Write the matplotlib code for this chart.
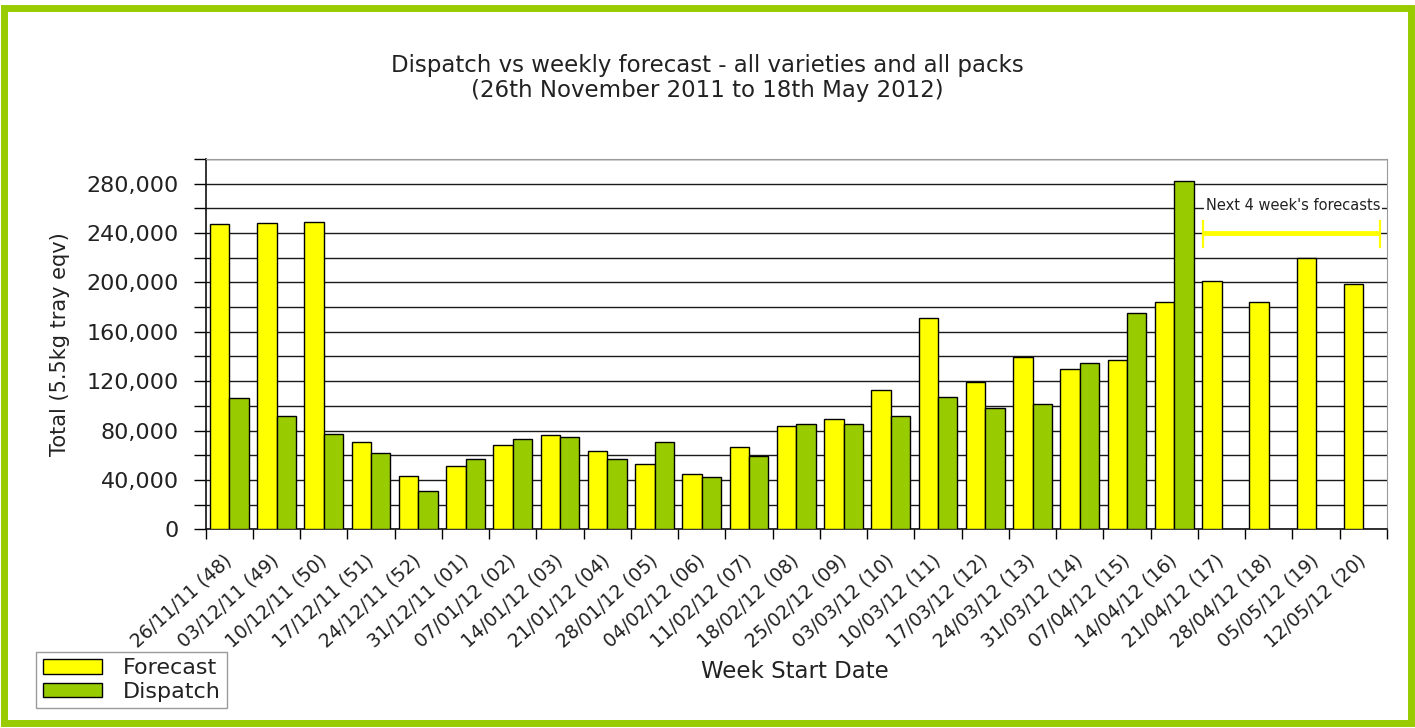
import matplotlib

matplotlib.use("Agg")
import matplotlib.pyplot as plt
from matplotlib.patches import Patch, Rectangle
from matplotlib.ticker import FuncFormatter, MultipleLocator

plt.rcParams["font.family"] = ["DejaVu Sans"]

YELLOW, GREEN, TXT = "#ffff00", "#99cc00", "#222222"

weeks = [
    "26/11/11 (48)", "03/12/11 (49)", "10/12/11 (50)", "17/12/11 (51)", "24/12/11 (52)",
    "31/12/11 (01)", "07/01/12 (02)", "14/01/12 (03)", "21/01/12 (04)", "28/01/12 (05)",
    "04/02/12 (06)", "11/02/12 (07)", "18/02/12 (08)", "25/02/12 (09)", "03/03/12 (10)",
    "10/03/12 (11)", "17/03/12 (12)", "24/03/12 (13)", "31/03/12 (14)", "07/04/12 (15)",
    "14/04/12 (16)", "21/04/12 (17)", "28/04/12 (18)", "05/05/12 (19)", "12/05/12 (20)",
]
forecast = [
    247000, 248500, 249000, 70500, 43000, 51500, 68000, 76000, 63500, 53000,
    45000, 66500, 84000, 89500, 112500, 171000, 119000, 139500, 130000, 137000,
    184500, 201000, 184500, 219500, 198500,
]
dispatch = [
    106000, 92000, 77000, 62000, 31000, 57000, 73000, 74500, 57000, 70500,
    42000, 59000, 85500, 85500, 92000, 107000, 98500, 101500, 134500, 175000,
    282500,
]

W = 0.41
fig = plt.figure(figsize=(14.15, 7.28), dpi=100, facecolor="white")
ax = fig.add_axes([205.7 / 1415, 1 - 529.3 / 728, (1387 - 205.7) / 1415, (529.3 - 159) / 728])

xf = [i - W / 2 for i in range(len(forecast))]
xd = [i + W / 2 for i in range(len(dispatch))]
ax.bar(xf, forecast, W, color=YELLOW, edgecolor="black", linewidth=1.0, zorder=3)
ax.bar(xd, dispatch, W, color=GREEN, edgecolor="black", linewidth=1.0, zorder=3)

ax.set_xlim(-0.5, len(weeks) - 0.5)
ax.set_ylim(0, 300000)
ax.yaxis.set_major_locator(MultipleLocator(40000))
ax.yaxis.set_minor_locator(MultipleLocator(20000))
ax.yaxis.set_major_formatter(FuncFormatter(lambda v, p: f"{int(v):,}" if v <= 280000 else ""))
ax.grid(True, which="both", axis="y", color="#1a1a1a", lw=1.0)
ax.set_axisbelow(True)

ax.set_xticks(range(len(weeks)))
ax.set_xticklabels(weeks, rotation=42, ha="right", va="center", rotation_mode="anchor",
                   fontsize=13.5, color=TXT)
ax.set_xticks([i - 0.5 for i in range(len(weeks) + 1)], minor=True)
ax.tick_params(axis="x", which="major", length=0, pad=21)
ax.tick_params(axis="x", which="minor", length=7, width=1.0, direction="out")
ax.tick_params(axis="y", which="both", length=8.5, width=1.0, direction="out", pad=11)
ax.tick_params(axis="y", labelsize=16, labelcolor=TXT)

for side in ("top", "right"):
    ax.spines[side].set_color("#9a9a9a")
for side in ("left", "bottom"):
    ax.spines[side].set_color("#111111")
    ax.spines[side].set_linewidth(1.2)

# forecast horizon bracket
ax.plot([20.6, 24.35], [240000, 240000], color=YELLOW, lw=3.5, zorder=4, solid_capstyle="butt")
for xc in (20.6, 24.35):
    ax.plot([xc, xc], [229000, 249500], color=YELLOW, lw=1.6, zorder=4)
ax.text(20.66, 262500, "Next 4 week's forecasts", fontsize=10.5, color=TXT, ha="left",
        va="center", zorder=5,
        bbox=dict(facecolor="white", edgecolor="none", pad=1.5))

ax.set_ylabel("Total (5.5kg tray eqv)", fontsize=15, color=TXT, labelpad=12)
fig.text(795 / 1415, 1 - 672 / 728, "Week Start Date", fontsize=16.5, color=TXT,
         ha="center", va="center")
fig.text(0.5, 1 - 78 / 728,
         "Dispatch vs weekly forecast - all varieties and all packs\n"
         "(26th November 2011 to 18th May 2012)",
         fontsize=16.5, color=TXT, ha="center", va="center", linespacing=1.1)

handles = [Patch(facecolor=YELLOW, edgecolor="black", lw=1.0, label="Forecast"),
           Patch(facecolor=GREEN, edgecolor="black", lw=1.0, label="Dispatch")]
leg = fig.legend(handles=handles, loc="upper left", bbox_to_anchor=(36 / 1415, 1 - 651.7 / 728),
                 fontsize=16, frameon=True, fancybox=False, framealpha=1, edgecolor="#9a9a9a",
                 handlelength=2.65, handleheight=0.6, handletextpad=0.95, labelspacing=0.15,
                 borderpad=0.3, borderaxespad=0)
for t in leg.get_texts():
    t.set_color(TXT)

# green outer frame
fig.add_artist(Rectangle((3.5 / 1415, 1 - 722.5 / 728), 1407 / 1415, 715 / 728,
                         transform=fig.transFigure, fill=False, edgecolor=GREEN,
                         linewidth=5.0, joinstyle="miter"))

fig.savefig("out.png", dpi=100, facecolor="white")
